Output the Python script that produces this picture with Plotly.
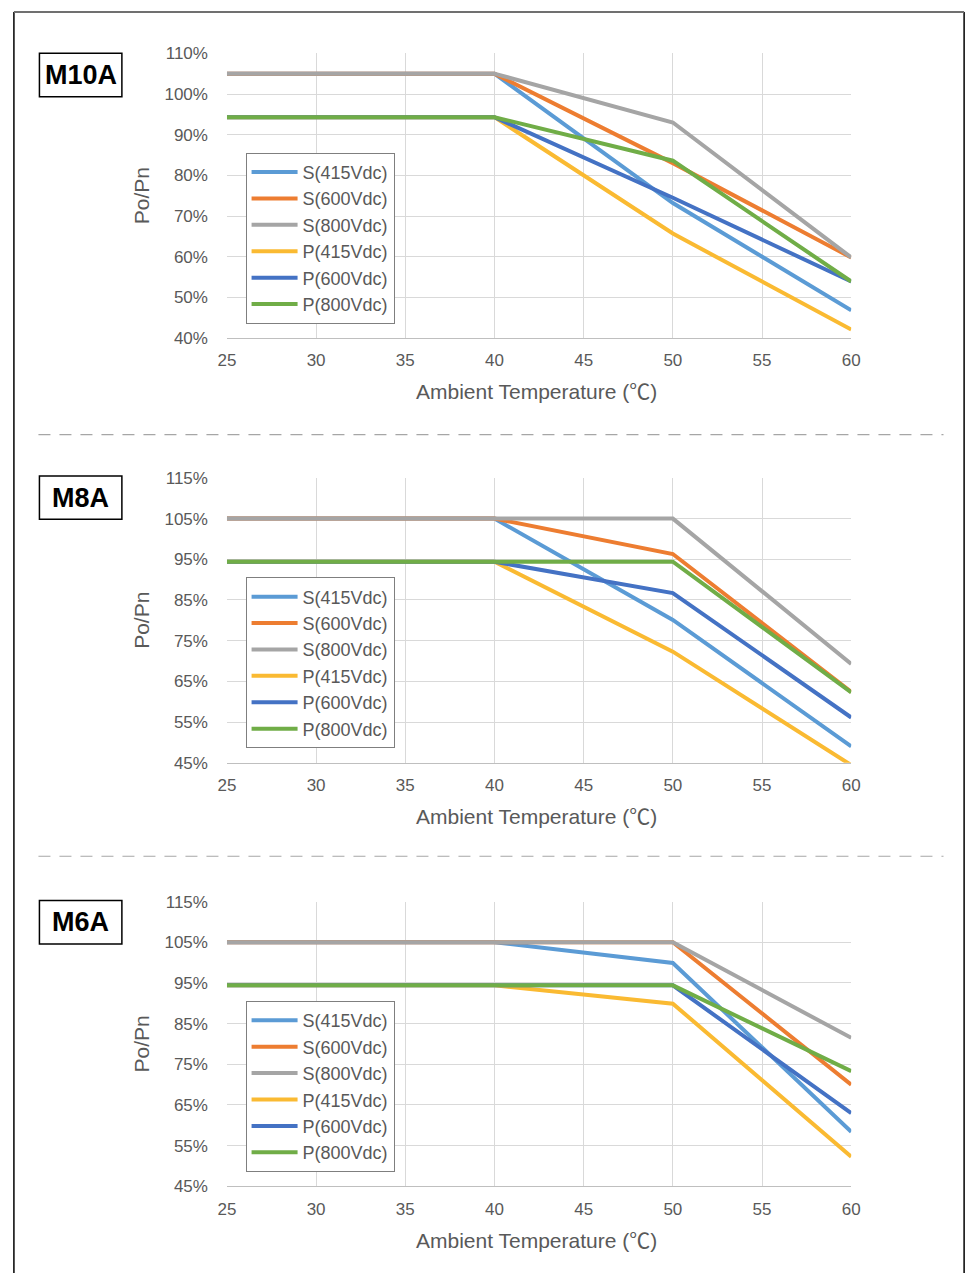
import plotly.graph_objects as go

W, H = 979, 1283

temps = [25, 40, 50, 60]
series_names = ["S(415Vdc)", "S(600Vdc)", "S(800Vdc)", "P(415Vdc)", "P(600Vdc)", "P(800Vdc)"]
colors = ["#5B9BD5", "#ED7D31", "#A5A5A5", "#FABA32", "#4472C4", "#70AD47"]

# M10A
m10a_s415 = [105, 105, 73.2, 46.8]
m10a_s600 = [105, 105, 83.0, 59.8]
m10a_s800 = [105, 105, 93.0, 59.8]
m10a_p415 = [94.3, 94.3, 65.7, 42.1]
m10a_p600 = [94.3, 94.3, 74.5, 53.9]
m10a_p800 = [94.3, 94.3, 83.6, 53.9]

# M8A
m8a_s415 = [105, 105, 80.1, 49.0]
m8a_s600 = [105, 105, 96.3, 62.4]
m8a_s800 = [105, 105, 105, 69.3]
m8a_p415 = [94.4, 94.4, 72.3, 44.4]
m8a_p600 = [94.4, 94.4, 86.7, 56.1]
m8a_p800 = [94.4, 94.4, 94.4, 62.3]

# M6A
m6a_s415 = [105, 105, 99.9, 58.4]
m6a_s600 = [105, 105, 105, 70.0]
m6a_s800 = [105, 105, 105, 81.5]
m6a_p415 = [94.4, 94.4, 89.9, 52.3]
m6a_p600 = [94.4, 94.4, 94.4, 63.0]
m6a_p800 = [94.4, 94.4, 94.4, 73.3]

panels = [
    ("M10A", [m10a_s415, m10a_s600, m10a_s800, m10a_p415, m10a_p600, m10a_p800], 40, 110),
    ("M8A", [m8a_s415, m8a_s600, m8a_s800, m8a_p415, m8a_p600, m8a_p800], 45, 115),
    ("M6A", [m6a_s415, m6a_s600, m6a_s800, m6a_p415, m6a_p600, m6a_p800], 45, 115),
]

x_ticks = [25, 30, 35, 40, 45, 50, 55, 60]

# page-pixel layout
plot_tops = [45, 476, 906]
plot_bottoms = [334, 765, 1195]
box_tops = [45, 474, 905]
plot_left, plot_right = 222, 858


def px(x):
    return x / W


def py(y):
    return 1 - y / H


TXT = "#595959"
FONT = "Liberation Sans, Arial, sans-serif"

fig = go.Figure()
layout = dict(
    width=W, height=H, margin=dict(l=0, r=0, t=0, b=0),
    paper_bgcolor="white", plot_bgcolor="white", showlegend=True,
    font=dict(family=FONT, color=TXT, size=17),
)
shapes = []
annotations = []

for i, (label, data, ymin, ymax) in enumerate(panels):
    k = "" if i == 0 else str(i + 1)
    xa, ya = "x" + k, "y" + k
    leg = "legend" + k
    for j, (name, vals) in enumerate(zip(series_names, data)):
        fig.add_trace(go.Scatter(
            x=temps, y=vals, name=name, mode="lines",
            line=dict(color=colors[j], width=4),
            xaxis=xa, yaxis=ya, legend=leg,
            legendgroup=f"{label}_{j}",
        ))
    top, bot = plot_tops[i], plot_bottoms[i]
    yt = list(range(ymin, ymax + 1, 10))
    layout["xaxis" + k] = dict(
        domain=[px(plot_left), px(plot_right)], anchor=ya, range=[25, 60],
        tickvals=x_ticks, ticktext=[str(v) for v in x_ticks],
        showgrid=True, gridcolor="#D9D9D9", gridwidth=1,
        showline=True, linecolor="#BFBFBF", linewidth=1, mirror=False,
        zeroline=False, ticks="", ticklabelstandoff=7,
        tickfont=dict(size=17, color=TXT, family=FONT),
        fixedrange=True,
    )
    layout["yaxis" + k] = dict(
        domain=[py(bot), py(top)], anchor=xa, range=[ymin, ymax],
        tickvals=yt, ticktext=[f"{v}%" for v in yt],
        showgrid=True, gridcolor="#D9D9D9", gridwidth=1,
        showline=False, zeroline=False, ticks="", ticklabelstandoff=18,
        tickfont=dict(size=17, color=TXT, family=FONT), fixedrange=True,
    )
    leg_top = top + 101
    layout[leg] = dict(
        x=px(241), y=py(leg_top), xanchor="left", yanchor="top",
        bgcolor="white", bordercolor="#7F7F7F", borderwidth=1,
        font=dict(size=18, color=TXT, family=FONT),
        tracegroupgap=0, traceorder="grouped", itemwidth=46,
    )
    # box label
    bx0, bx1 = 31, 115
    by0 = box_tops[i]
    by1 = by0 + 44
    shapes.append(dict(type="rect", xref="paper", yref="paper",
                       x0=px(bx0), x1=px(bx1), y0=py(by1), y1=py(by0),
                       line=dict(color="black", width=1.5), fillcolor="white"))
    annotations.append(dict(text=f"<b>{label}</b>", xref="paper", yref="paper",
                            x=px((bx0 + bx1) / 2), y=py((by0 + by1) / 2),
                            showarrow=False, xanchor="center", yanchor="middle",
                            font=dict(size=27, color="black", family=FONT)))
    # axis titles
    annotations.append(dict(
        text="Ambient Temperature (<span style=\"font-family:'Noto Sans CJK SC'\">℃</span>)",
        xref="paper", yref="paper",
        x=px(537), y=py(bot + 53), showarrow=False,
        xanchor="center", yanchor="middle",
        font=dict(size=21, color=TXT, family=FONT)))
    annotations.append(dict(text="Po/Pn", xref="paper", yref="paper",
                            x=px(135), y=py((top + bot) / 2), showarrow=False,
                            textangle=-90, xanchor="center", yanchor="middle",
                            font=dict(size=21, color=TXT, family=FONT)))

# separators
for ysep in [432, 860]:
    shapes.append(dict(type="line", xref="paper", yref="paper",
                       x0=px(30), x1=px(952), y0=py(ysep), y1=py(ysep),
                       line=dict(color="#A6A6A6", width=1.2, dash="12px,9px")))

# outer border
shapes.append(dict(type="line", xref="paper", yref="paper", x0=px(5), x1=px(5),
                   y0=0, y1=py(3), line=dict(color="black", width=1.5)))
shapes.append(dict(type="line", xref="paper", yref="paper", x0=px(973), x1=px(973),
                   y0=0, y1=py(3), line=dict(color="black", width=1.5)))
shapes.append(dict(type="line", xref="paper", yref="paper", x0=px(5), x1=px(973),
                   y0=py(3), y1=py(3), line=dict(color="#707070", width=2)))

layout["shapes"] = shapes
layout["annotations"] = annotations
fig.update_layout(**layout)

fig.write_html("out.html",
               post_script="document.body.style.margin='0';document.documentElement.style.margin='0';",
               config={"displayModeBar": False})
